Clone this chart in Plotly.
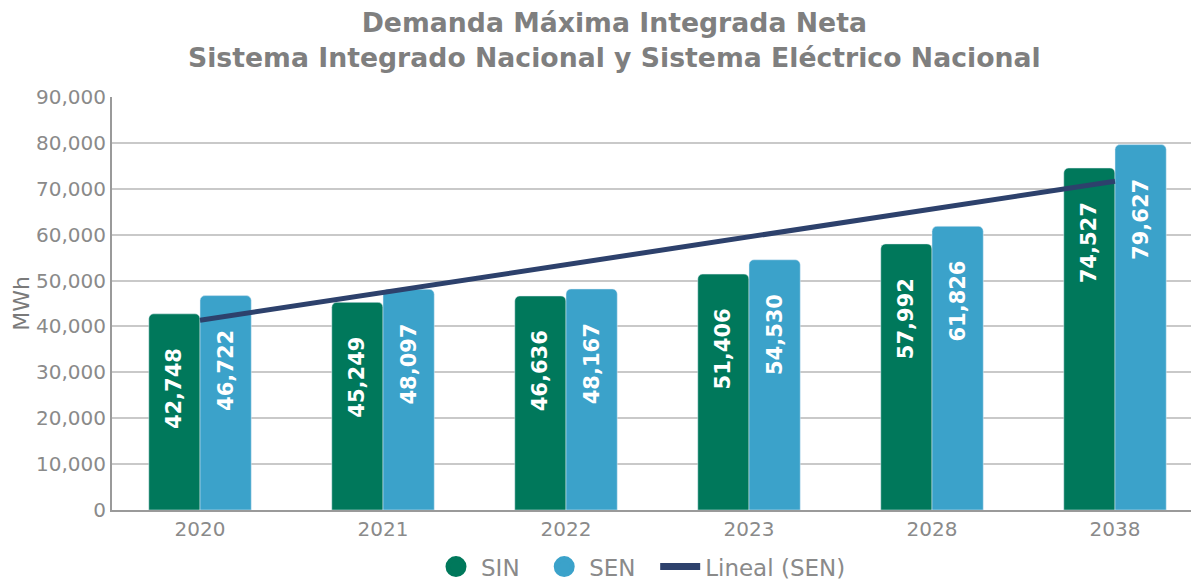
import numpy as np
import plotly.graph_objects as go

years = ["2020", "2021", "2022", "2023", "2028", "2038"]
sin_values = [42748, 45249, 46636, 51406, 57992, 74527]
sen_values = [46722, 48097, 48167, 54530, 61826, 79627]
y_ticks = [0, 10000, 20000, 30000, 40000, 50000, 60000, 70000, 80000, 90000]

GREEN = "#00785B"
BLUE = "#3BA2CA"
NAVY = "#2D416C"
GRAY = "#8A8A8A"
FONT = "DejaVu Sans"

# linear trendline (like Excel "Lineal") on SEN
idx = np.arange(1, len(years) + 1)
slope, intercept = np.polyfit(idx, sen_values, 1)
trend = slope * idx + intercept

pad = "\u00a0" * 4
W, H = 1191, 572  # page body has an 8px margin
L, T, B = 104, 89, 70
PH = H - T - B
PW = W - L

fig = go.Figure()
fig.add_trace(go.Bar(
    x=years, y=sin_values, name="SIN", marker_color=GREEN, showlegend=False,
    text=[f"{v:,}" + pad for v in sin_values], textposition="inside",
    insidetextanchor="end", textangle=-90,
    textfont=dict(family=FONT, size=21, color="white", weight="bold"),
))
fig.add_trace(go.Bar(
    x=years, y=sen_values, name="SEN", marker_color=BLUE, showlegend=False,
    text=[f"{v:,}" + pad for v in sen_values], textposition="inside",
    insidetextanchor="end", textangle=-90,
    textfont=dict(family=FONT, size=21, color="white", weight="bold"),
))
fig.add_trace(go.Scatter(
    x=years, y=trend, mode="lines", name="Lineal (SEN)",
    line=dict(color=NAVY, width=5), showlegend=False,
))
# legend entries
fig.add_trace(go.Scatter(x=[None], y=[None], mode="markers", name="SIN\u00a0\u00a0",
                         marker=dict(color=GREEN, size=16, symbol="circle",
                                     line=dict(color=GREEN, width=5))))
fig.add_trace(go.Scatter(x=[None], y=[None], mode="markers", name="SEN\u00a0\u00a0",
                         marker=dict(color=BLUE, size=16, symbol="circle",
                                     line=dict(color=BLUE, width=5))))
fig.add_trace(go.Scatter(x=[None], y=[None], mode="lines", name="Lineal (SEN)",
                         line=dict(color=NAVY, width=7)))

fig.update_layout(
    width=W, height=H,
    paper_bgcolor="white", plot_bgcolor="white",
    margin=dict(l=L, r=0, t=T, b=B, autoexpand=False),
    barmode="group", bargap=0.44, bargroupgap=0, barcornerradius=5,
    annotations=[dict(
        text="Demanda Máxima Integrada Neta<br>Sistema Integrado Nacional y Sistema Eléctrico Nacional",
        xref="paper", yref="paper",
        x=(614 - 8 - L) / PW, xanchor="center",
        y=1 + (T + 3) / PH, yanchor="top",
        showarrow=False,
        font=dict(family=FONT, size=26.7, color="#7F7F7F", weight="bold"),
    )],
    font=dict(family=FONT, color=GRAY),
    legend=dict(orientation="h", x=(641 - 8 - L) / PW, xanchor="center",
                y=-0.085, yanchor="top",
                font=dict(family=FONT, size=23, color=GRAY), itemwidth=40),
    xaxis=dict(
        type="category", range=[-0.481, 5.459],
        showline=True, linecolor="#9A9A9A", linewidth=2,
        ticks="", tickfont=dict(family=FONT, size=20, color=GRAY),
        showgrid=False,
    ),
    yaxis=dict(
        range=[0, 90000], tickvals=y_ticks,
        ticktext=[f"{v:,}" for v in y_ticks],
        showline=True, linecolor="#9A9A9A", linewidth=2,
        gridcolor="#C9C9C9", gridwidth=1.5,
        tickfont=dict(family=FONT, size=20, color=GRAY),
        title=dict(text="MWh", font=dict(family=FONT, size=22, color="#7A7A7A"), standoff=0),
        ticks="", zeroline=False,
    ),
)

fig.write_html("out.html")
